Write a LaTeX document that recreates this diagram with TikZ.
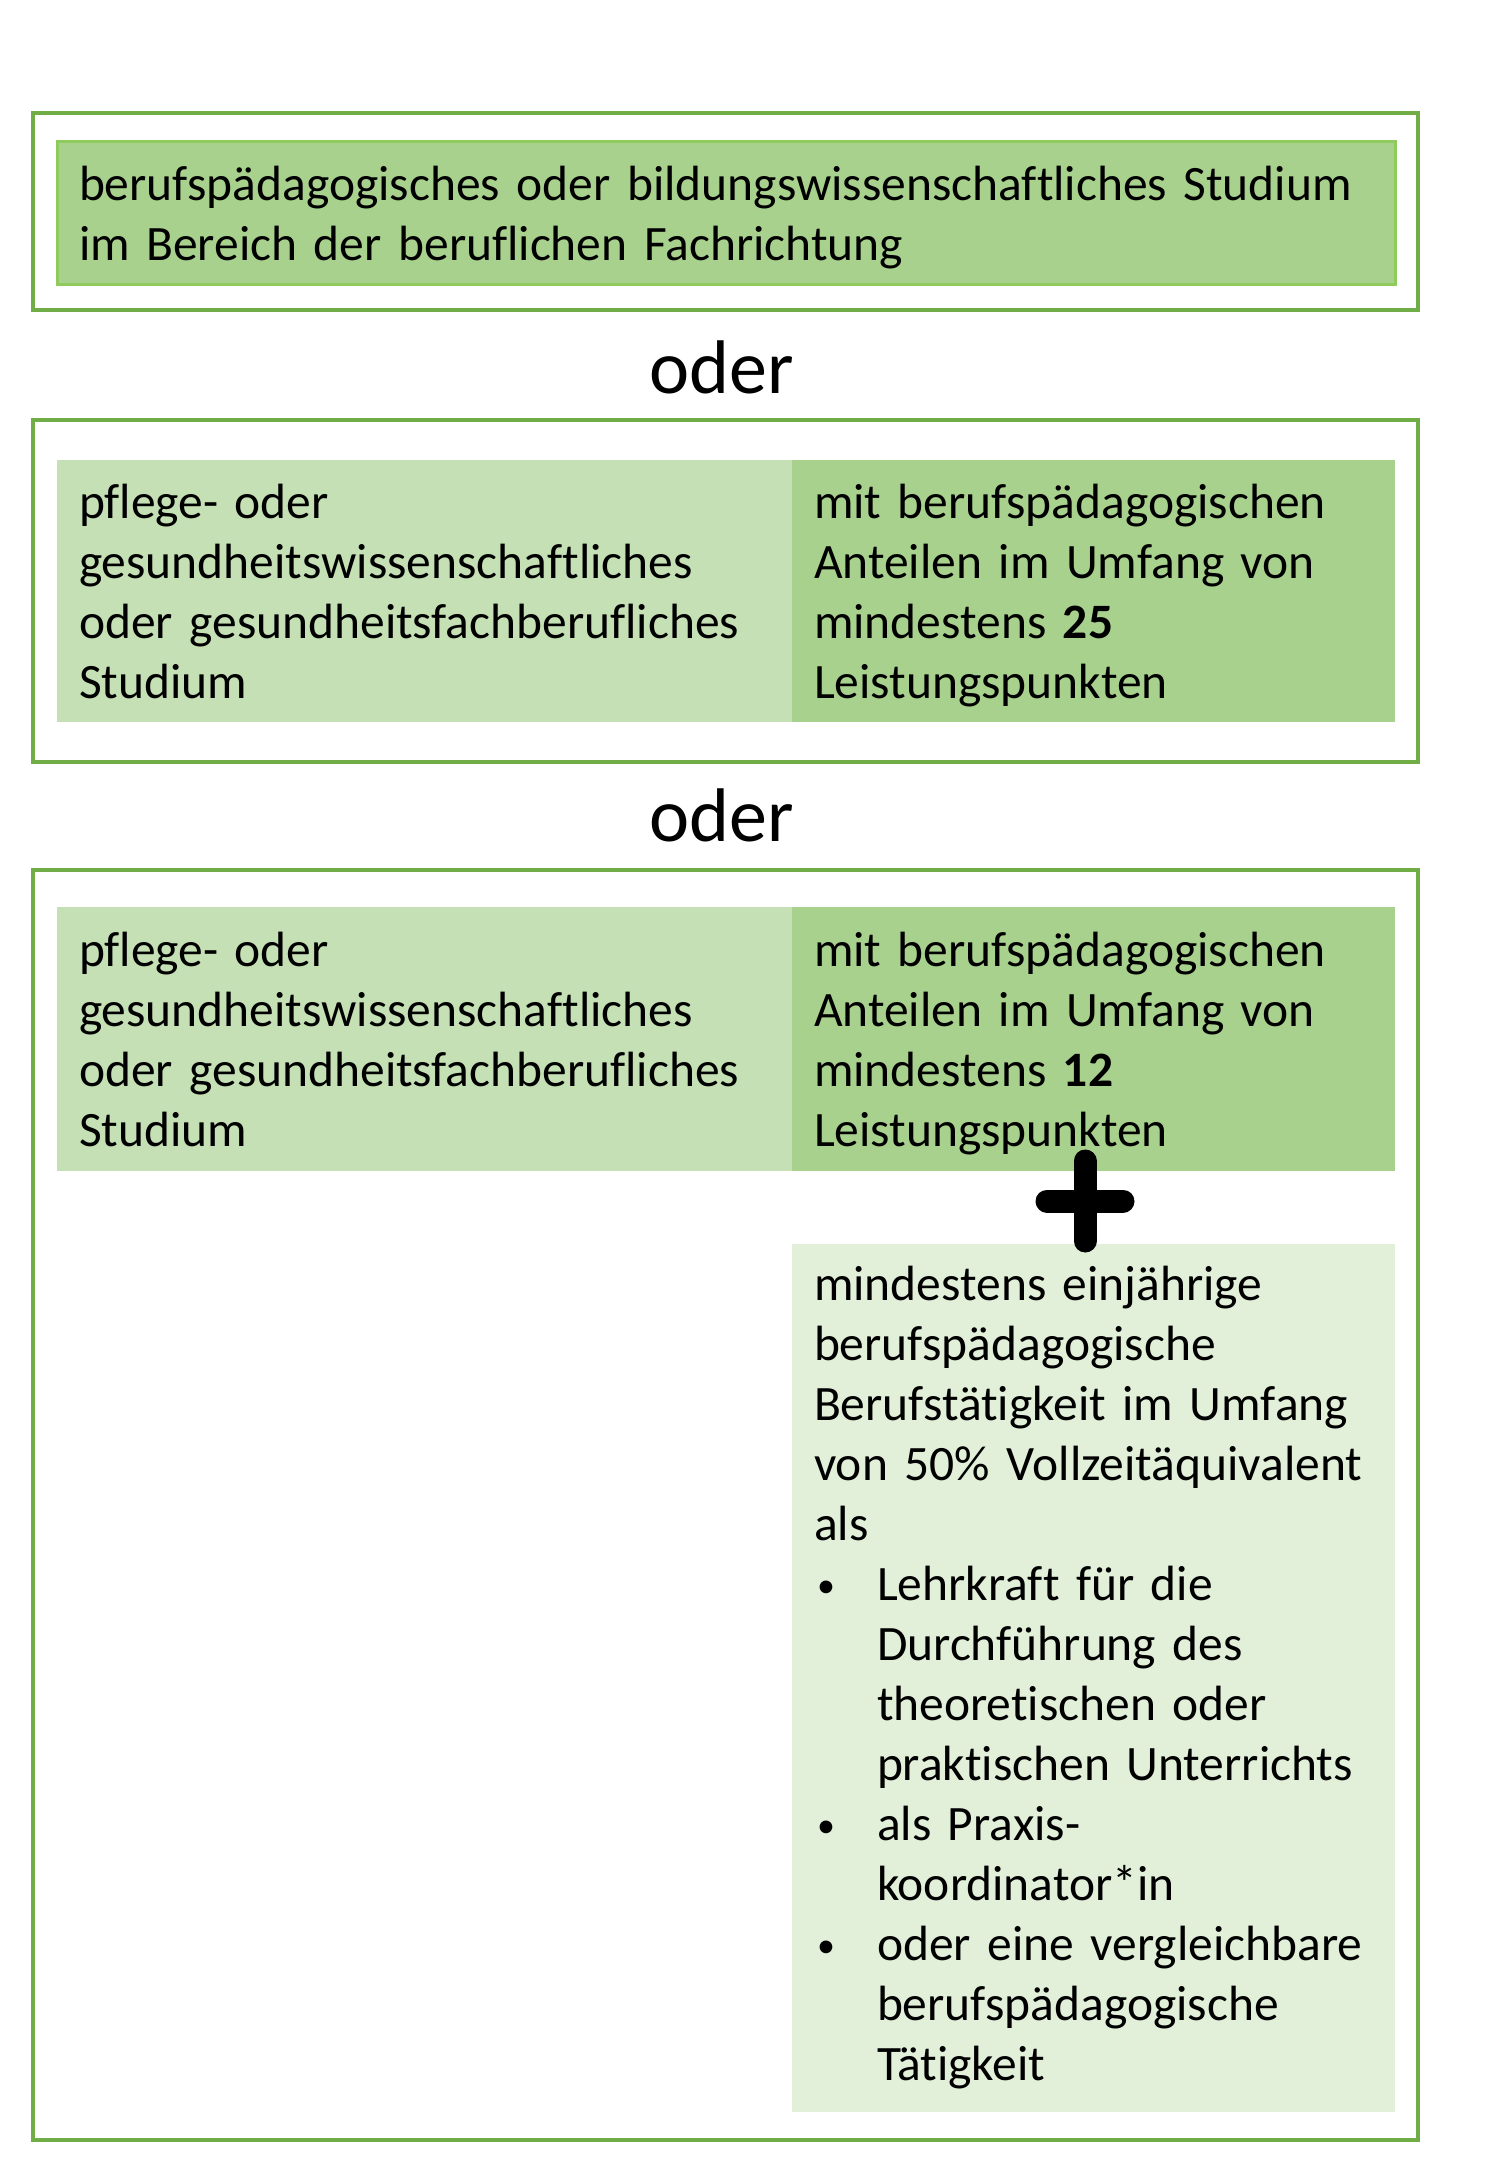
\documentclass[tikz,border=0pt]{standalone}
\usepackage{fontspec}
\setmainfont[Ligatures=NoCommon]{Carlito}
\usetikzlibrary{positioning}

\definecolor{frameGreen}{HTML}{70AD47}
\definecolor{lineGreen}{HTML}{8FCB5C}
\definecolor{midGreen}{HTML}{A9D18E}
\definecolor{lightGreen}{HTML}{C5E0B4}
\definecolor{paleGreen}{HTML}{E2F0D9}

\newcommand{\bul}{\makebox[63pt][l]{\hspace*{3pt}\raisebox{3pt}{\fontsize{36}{60}\selectfont\textbullet}}}
\newcommand{\hang}{\hspace*{63pt}}

\begin{document}
\begin{tikzpicture}[x=1pt, y=-1pt, font=\fontsize{49.5}{60}\selectfont,
  frame/.style={draw=frameGreen, line width=3.5pt, anchor=north west, minimum width=1385pt, inner sep=0pt, outer sep=0pt},
  cell/.style={anchor=north west, inner xsep=22pt, inner ysep=0pt, outer sep=0pt, align=left},
  oderlabel/.style={font=\fontsize{76}{90}\selectfont, anchor=base}]
\useasboundingbox[fill=white] (0,0) rectangle (1500,2167);

% Frames
\node[frame, minimum height=197pt] (frameA) at (33,113) {};
\node[frame, minimum height=342pt] (frameB) at (33,420) {};
\node[frame, minimum height=1270pt] (frameC) at (33,870) {};

% First option
\node[cell, fill=midGreen, draw=lineGreen, line width=3pt, text width=1294pt, minimum height=142pt] (studA) at (57,142)
  {\rule{0pt}{44pt}berufspädagogisches oder bildungswissenschaftliches Studium\\im Bereich der beruflichen Fachrichtung};
\node[oderlabel] (oderA) at (722,393) {oder};

% Second option
\node[cell, fill=lightGreen, text width=691pt, minimum height=262pt] (pflegeB) at (57,460)
  {pflege- oder\\gesundheitswissenschaftliches\\oder gesundheitsfachberufliches\\Studium};
\node[cell, fill=midGreen, text width=559pt, minimum height=262pt, right=0pt of pflegeB] (antB)
  {\rule{0pt}{44pt}mit berufspädagogischen\\Anteilen im Umfang von\\mindestens \textbf{25}\\Leistungspunkten};
\node[oderlabel] (oderB) at (722,841) {oder};

% Third option
\node[cell, fill=lightGreen, text width=691pt, minimum height=264pt] (pflegeC) at (57,907)
  {pflege- oder\\gesundheitswissenschaftliches\\oder gesundheitsfachberufliches\\Studium};
\node[cell, fill=midGreen, text width=559pt, minimum height=264pt, right=0pt of pflegeC] (antC)
  {\rule{0pt}{44pt}mit berufspädagogischen\\Anteilen im Umfang von\\mindestens \textbf{12}\\Leistungspunkten};
\node[cell, fill=paleGreen, text width=559pt, minimum height=868pt, below=73pt of antC.south west, anchor=north west] (taetC)
  {mindestens einjährige\\berufspädagogische\\Berufstätigkeit im Umfang\\von 50\% Vollzeitäquivalent\\als\\
   \bul Lehrkraft für die\\\hang Durchführung des\\\hang theoretischen oder\\\hang praktischen Unterrichts\\
   \bul als Praxis-\\\hang koordinator*in\\
   \bul oder eine vergleichbare\\\hang berufspädagogische\\\hang Tätigkeit};

% Plus
\coordinate (plus) at (1085,1201);
\draw[line width=23pt, line cap=round] ([yshift=-40pt]plus) -- ([yshift=40pt]plus);
\draw[line width=23pt, line cap=round] ([xshift=-38pt]plus) -- ([xshift=38pt]plus);
\end{tikzpicture}
\end{document}
